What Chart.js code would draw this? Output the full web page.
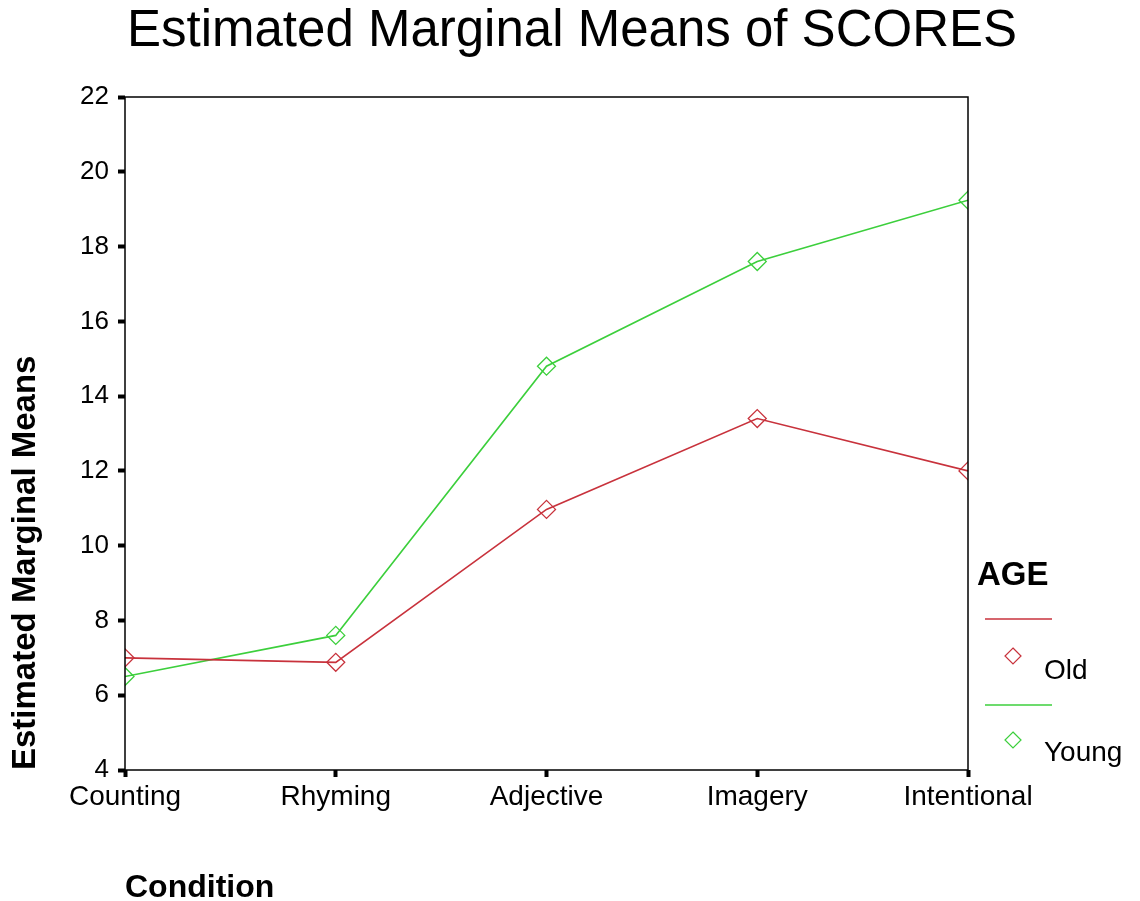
<!DOCTYPE html>
<html>
<head>
<meta charset="utf-8">
<title>Estimated Marginal Means of SCORES</title>
<script src="https://cdn.jsdelivr.net/npm/chart.js@4.4.1/dist/chart.umd.min.js"></script>
<style>
    html, body { margin: 0; padding: 0; background: #fff; }
    #wrap { width: 1140px; height: 901px; position: relative; }
</style>
</head>
<body>
<div id="wrap"><canvas id="emmChart" width="1140" height="901"></canvas></div>
<script>
// данные графика
const conditions = ['Counting', 'Rhyming', 'Adjective', 'Imagery', 'Intentional'];
const ageGroups = ['Old', 'Young'];
const oldScores = [7.0, 6.88, 10.97, 13.4, 12.0];
const youngScores = [6.5, 7.6, 14.8, 17.6, 19.24];
const yTicks = [4, 6, 8, 10, 12, 14, 16, 18, 20, 22];

const chartTitle = 'Estimated Marginal Means of SCORES';
const yTitle = 'Estimated Marginal Means';
const xTitle = 'Condition';
const legendTitle = 'AGE';

const RED = '#c8323c';
const GREEN = '#3ccf3c';
const FONT = 'Arial, "Liberation Sans", sans-serif';

// рамка, заголовок и легенда в стиле SPSS
const spssDecor = {
    id: 'spssDecor',
    afterDraw(chart) {
        const { ctx, chartArea } = chart;
        ctx.save();

        // рамка вокруг области графика
        ctx.strokeStyle = '#000';
        ctx.lineWidth = 1.5;
        ctx.strokeRect(chartArea.left, chartArea.top, chartArea.right - chartArea.left, chartArea.bottom - chartArea.top);

        // заголовок
        ctx.fillStyle = '#000';
        ctx.font = '51px ' + FONT;
        ctx.textAlign = 'center';
        ctx.textBaseline = 'middle';
        ctx.fillText(chartTitle, 572, 32);

        // легенда
        ctx.textAlign = 'left';
        ctx.font = 'bold 33px ' + FONT;
        ctx.fillText(legendTitle, 977, 576);

        const lineY = [619, 705];
        const markY = [656, 740];
        const textY = [671, 753];
        chart.data.datasets.forEach((ds, i) => {
            ctx.strokeStyle = ds.borderColor;
            ctx.lineWidth = 1.5;
            ctx.beginPath();
            ctx.moveTo(985, lineY[i]);
            ctx.lineTo(1052, lineY[i]);
            ctx.stroke();

            // ромб
            const cx = 1013, cy = markY[i], r = 8;
            ctx.lineWidth = 1.2;
            ctx.beginPath();
            ctx.moveTo(cx, cy - r);
            ctx.lineTo(cx + r, cy);
            ctx.lineTo(cx, cy + r);
            ctx.lineTo(cx - r, cy);
            ctx.closePath();
            ctx.stroke();

            ctx.fillStyle = '#000';
            ctx.font = '28px ' + FONT;
            ctx.textBaseline = 'middle';
            ctx.fillText(ds.label, 1044, textY[i]);
        });

        ctx.restore();
    }
};

function makeDataset(label, values, color) {
    return {
        label: label,
        data: values,
        borderColor: color,
        backgroundColor: 'rgba(0,0,0,0)',
        borderWidth: 1.6,
        pointStyle: 'rectRot',
        pointRadius: 9,
        pointBorderWidth: 1.3,
        pointBorderColor: color,
        pointBackgroundColor: 'rgba(0,0,0,0)',
        tension: 0,
        fill: false,
        clip: 0
    };
}

new Chart(document.getElementById('emmChart'), {
    type: 'line',
    data: {
        labels: conditions,
        datasets: [
            makeDataset(ageGroups[0], oldScores, RED),
            makeDataset(ageGroups[1], youngScores, GREEN)
        ]
    },
    plugins: [spssDecor],
    options: {
        responsive: false,
        animation: false,
        devicePixelRatio: 1,
        layout: {
            padding: { top: 97, right: 172, left: 0, bottom: 0 }
        },
        plugins: {
            legend: { display: false },
            title: { display: false },
            tooltip: { enabled: false }
        },
        scales: {
            x: {
                type: 'category',
                offset: false,
                border: { display: false },
                grid: {
                    drawOnChartArea: false,
                    drawTicks: true,
                    tickLength: 7,
                    tickWidth: 4,
                    tickColor: '#000'
                },
                ticks: {
                    color: '#000',
                    padding: 3,
                    maxRotation: 0,
                    autoSkip: false,
                    font: { family: FONT, size: 28 }
                },
                title: {
                    display: true,
                    text: xTitle,
                    align: 'start',
                    color: '#000',
                    padding: { top: 0, bottom: -6 },
                    font: { family: FONT, size: 32, weight: 'bold' }
                },
                afterFit(scale) { scale.height = 131; }
            },
            y: {
                min: 4,
                max: 22,
                border: { display: false },
                afterBuildTicks(scale) {
                    scale.ticks = yTicks.map(v => ({ value: v }));
                },
                grid: {
                    drawOnChartArea: false,
                    drawTicks: true,
                    tickLength: 7,
                    tickWidth: 4,
                    tickColor: '#000'
                },
                ticks: {
                    color: '#000',
                    padding: 9,
                    font: { family: FONT, size: 26 }
                },
                title: {
                    display: true,
                    text: yTitle,
                    align: 'start',
                    color: '#000',
                    padding: { top: 6, bottom: 0 },
                    font: { family: FONT, size: 33, weight: 'bold' }
                },
                afterFit(scale) { scale.width = 125; }
            }
        }
    }
});
</script>
</body>
</html>
